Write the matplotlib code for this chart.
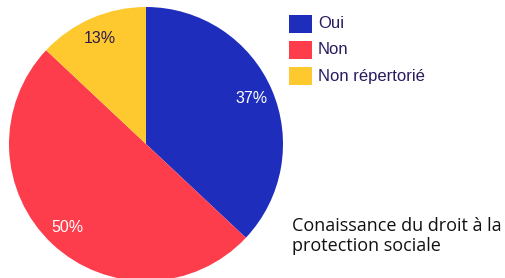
import matplotlib.pyplot as plt
from matplotlib.patches import Rectangle

# Données du graphique
categories = ["Oui", "Non", "Non répertorié"]
valeurs = [37, 50, 13]
couleurs = ["#1f2dbd", "#fd3c4c", "#fec92e"]
couleurs_etiquettes = ["white", "white", "#2a1a4e"]
titre = "Conaissance du droit à la\nprotection sociale"

W, H = 505, 278
fig = plt.figure(figsize=(W / 100, H / 100), dpi=100)

# Axe du camembert (centre ~ (146,144), rayon ~137 px)
cx, cy, r = 146, 144, 137
ax = fig.add_axes([(cx - r) / W, (H - cy - r) / H, 2 * r / W, 2 * r / H])
wedges, textes = ax.pie(valeurs, colors=couleurs, startangle=90, counterclock=False,
                        labels=[f"{v}%" for v in valeurs], labeldistance=0.84,
                        wedgeprops=dict(linewidth=0),
                        textprops=dict(fontsize=11.5, family="Liberation Sans"))
for t, c in zip(textes, couleurs_etiquettes):
    t.set_color(c)
    t.set_ha("center")
    t.set_va("center")
ax.set_xlim(-1, 1)
ax.set_ylim(-1, 1)
ax.axis("off")

# Légende dessinée à la main
for i, (cat, col) in enumerate(zip(categories, couleurs)):
    yc = 24 + i * 26
    fig.patches.append(Rectangle((289 / W, (H - yc - 9) / H), 23 / W, 18 / H,
                                 transform=fig.transFigure, facecolor=col, edgecolor="none"))
    fig.text(318 / W, (H - yc) / H, cat, fontsize=12, family="Liberation Sans",
             color="#2a1a5e", va="center", ha="left")

# Titre en bas à droite
fig.text(292 / W, (H - 236) / H, titre, fontsize=13, family="Open Sans",
         color="#111111", va="center", ha="left", linespacing=1.2)

fig.savefig("out.png", dpi=100)
